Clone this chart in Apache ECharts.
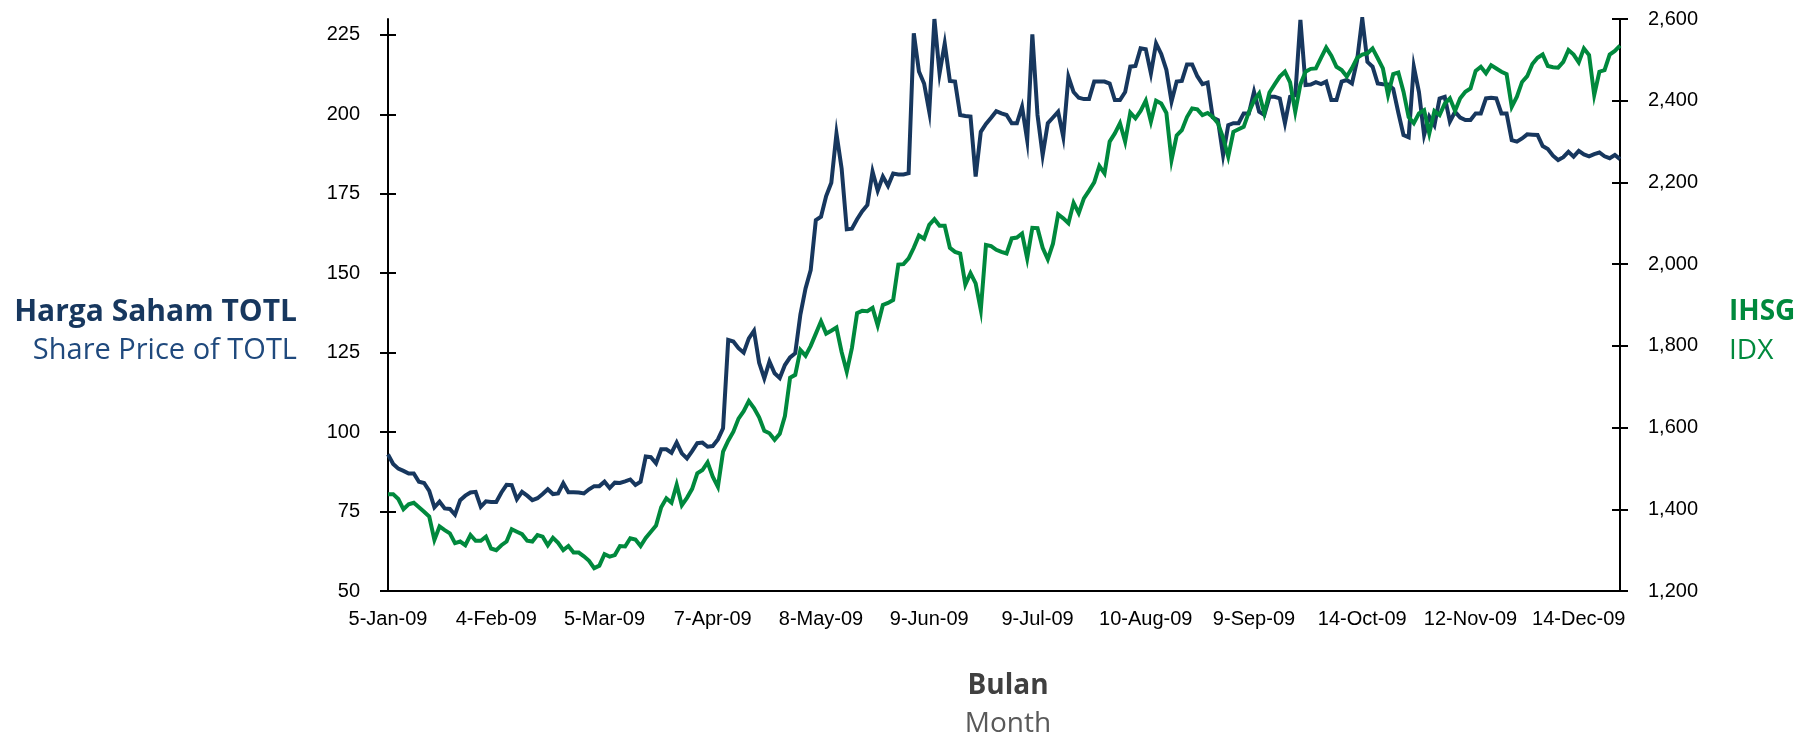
<!DOCTYPE html>
<html>
<head>
<meta charset="utf-8">
<title>Harga Saham TOTL vs IHSG 2009</title>
<script src="https://cdn.jsdelivr.net/npm/echarts@6/dist/echarts.min.js"></script>
<style>
  html, body { margin: 0; padding: 0; background: #fff; }
  #chart { width: 1813px; height: 742px; }
</style>
</head>
<body>
<div id="chart"></div>
<script>
// tick labels on the date axis, one every 21 trading days
const tickLabels = ['5-Jan-09', '4-Feb-09', '5-Mar-09', '7-Apr-09', '8-May-09', '9-Jun-09',
  '9-Jul-09', '10-Aug-09', '9-Sep-09', '14-Oct-09', '12-Nov-09', '14-Dec-09'];
const tickStep = 21;

// harga saham TOTL (left axis), daily close
const totl = [
  93, 90, 88.5, 87.8, 87, 87, 84.4, 84, 81.5, 76.3,
  78.1, 76, 75.8, 74, 78.6, 80, 81, 81.2, 76.5, 78.2,
  78, 78, 81, 83.4, 83.3, 78.9, 81.2, 80, 78.6, 79.2,
  80.5, 82, 80.5, 80.7, 83.9, 81.1, 81.1, 81, 80.7, 82,
  83, 83, 84.4, 82.4, 84.1, 84, 84.5, 85.1, 83.4, 84.4,
  92.3, 92.1, 90.2, 94.6, 94.6, 93.5, 96.7, 93.3, 91.7, 94,
  96.5, 96.7, 95.4, 95.6, 97.7, 101.2, 129, 128.5, 126.4, 125,
  129.5, 131.9, 121.8, 116.9, 122.2, 118.5, 117, 121.1, 123.5, 124.8,
  137, 145.2, 151, 166.7, 167.8, 174.3, 178.5, 194, 183, 163.8,
  164, 167, 169.5, 171.5, 182, 176, 180.4, 177.5, 181.4, 181.1,
  181.1, 181.5, 225.5, 213.5, 209.7, 200.8, 230, 212.9, 222.3, 210.5,
  210.3, 199.8, 199.5, 199.3, 180.4, 194.5, 197, 198.9, 201, 200.3,
  199.8, 197.2, 197.2, 202.4, 191.9, 225.2, 199.8, 187.2, 197.2, 199,
  200.8, 192.9, 211.8, 207, 205.2, 204.8, 204.8, 210.3, 210.3, 210.3,
  209.7, 204.5, 204.5, 207, 215, 215.2, 220.8, 220.5, 212.9, 222.3,
  219, 214, 204, 210.3, 210.5, 215.7, 215.7, 212, 209.5, 210,
  199, 198.2, 187.2, 196.6, 197.2, 197.2, 200.3, 200.3, 207.1, 200.8,
  199.8, 205.5, 205.5, 205, 197.2, 205.5, 206, 229.7, 209.2, 209.4,
  210.1, 209.5, 210.3, 204.5, 204.5, 210.3, 210.8, 209.7, 217, 230.2,
  216.5, 215, 209.7, 209.5, 209.4, 208, 200.5, 193.5, 192.8, 215,
  207, 193.5, 199.3, 196.5, 205, 205.5, 197.7, 200.8, 199, 198.2,
  198.2, 200.3, 200.3, 205, 205.2, 205, 200.3, 200.3, 191.9, 191.4,
  192.4, 193.7, 193.6, 193.5, 190, 189.1, 187, 185.6, 186.5, 188.2,
  186.7, 188.5, 187.4, 186.8, 187.5, 188, 186.8, 186.2, 187.2, 185.9
];

// IHSG / IDX composite (right axis)
const ihsg = [
  1437, 1437, 1425, 1400, 1412, 1416, 1405, 1394, 1382, 1325,
  1358, 1349, 1341, 1317, 1321, 1312, 1337, 1323, 1323, 1333,
  1304, 1300, 1312, 1321, 1351, 1345, 1339, 1323, 1321, 1337,
  1333, 1312, 1330, 1318, 1300, 1310, 1294, 1294, 1285, 1274,
  1256, 1262, 1290, 1284, 1288, 1310, 1309, 1329, 1326, 1310,
  1330, 1345, 1360, 1405, 1427, 1416, 1460, 1410, 1428, 1450,
  1488, 1496, 1515, 1480, 1455, 1541, 1568, 1590, 1622, 1640,
  1665, 1648, 1625, 1592, 1586, 1570, 1585, 1628, 1722, 1729,
  1790, 1776, 1800, 1830, 1860, 1830, 1837, 1845, 1785, 1737,
  1795, 1880, 1886, 1885, 1893, 1850, 1900, 1905, 1912, 1999,
  2000, 2014, 2040, 2070, 2062, 2096, 2110, 2094, 2094, 2040,
  2030, 2026, 1950, 1978, 1953, 1888, 2047, 2044, 2035, 2030,
  2026, 2063, 2065, 2075, 2014, 2089, 2088, 2040, 2012, 2050,
  2122, 2112, 2100, 2150, 2125, 2161, 2180, 2200, 2240, 2222,
  2300, 2320, 2345, 2300, 2371, 2357, 2375, 2400, 2349, 2400,
  2393, 2370, 2255, 2315, 2328, 2360, 2381, 2379, 2365, 2370,
  2360, 2345, 2310, 2263, 2324, 2330, 2336, 2372, 2400, 2418,
  2369, 2420, 2440, 2459, 2471, 2445, 2373, 2440, 2471, 2478,
  2479, 2505, 2530, 2510, 2483, 2475, 2459, 2480, 2505, 2513,
  2516, 2528, 2504, 2479, 2414, 2465, 2469, 2422, 2360, 2345,
  2369, 2377, 2320, 2375, 2365, 2393, 2406, 2375, 2406, 2422,
  2430, 2473, 2483, 2467, 2487, 2479, 2471, 2465, 2385, 2410,
  2446, 2460, 2490, 2505, 2513, 2485, 2482, 2481, 2495, 2524,
  2513, 2494, 2528, 2512, 2414, 2471, 2475, 2513, 2522, 2535
];

const leftTicks = [50, 75, 100, 125, 150, 175, 200, 225];

// categories: one per trading day, labelled every tickStep days
const days = totl.map((v, i) => (i % tickStep === 0 ? tickLabels[i / tickStep] : ''));

const NAVY = '#17375E';
const GREEN = '#00893D';
const AXIS_FONT = '"Liberation Sans", Arial, sans-serif';
const TITLE_FONT = '"Open Sans", "Noto Sans", sans-serif';

let myCharts = echarts.init(document.getElementById('chart'));

let tickStyle = { show: true, length: 8, lineStyle: { color: '#000', width: 2 } };

let option = {
  animation: false,
  backgroundColor: '#fff',
  grid: { left: 388, right: 193, top: 19, bottom: 151 },
  xAxis: {
    type: 'category',
    boundaryGap: false,
    data: days,
    axisLine: { lineStyle: { color: '#000', width: 2 } },
    axisTick: { show: false },
    axisLabel: {
      interval: function (i) { return i % tickStep === 0; },
      color: '#000',
      fontFamily: AXIS_FONT,
      fontSize: 20,
      margin: 18
    },
    splitLine: { show: false }
  },
  yAxis: [{
    type: 'value',
    position: 'left',
    min: 50,
    max: 230,
    interval: 25,
    axisLine: { show: true, lineStyle: { color: '#000', width: 2 } },
    axisTick: Object.assign({ customValues: leftTicks }, tickStyle),
    axisLabel: {
      customValues: leftTicks,
      color: '#000',
      fontFamily: AXIS_FONT,
      fontSize: 20,
      margin: 28
    },
    splitLine: { show: false }
  }, {
    type: 'value',
    position: 'right',
    min: 1200,
    max: 2600,
    interval: 200,
    axisLine: { show: true, lineStyle: { color: '#000', width: 2 } },
    axisTick: tickStyle,
    axisLabel: {
      color: '#000',
      fontFamily: AXIS_FONT,
      fontSize: 20,
      margin: 28,
      formatter: function (v) { return v.toLocaleString('en-US'); }
    },
    splitLine: { show: false }
  }, {
    // inner half of the crossing ticks, left
    type: 'value',
    position: 'left',
    min: 50,
    max: 230,
    interval: 25,
    axisLine: { show: false },
    axisTick: Object.assign({ inside: true, customValues: leftTicks }, tickStyle),
    axisLabel: { show: false },
    splitLine: { show: false }
  }, {
    // inner half of the crossing ticks, right
    type: 'value',
    position: 'right',
    min: 1200,
    max: 2600,
    interval: 200,
    axisLine: { show: false },
    axisTick: Object.assign({ inside: true }, tickStyle),
    axisLabel: { show: false },
    splitLine: { show: false }
  }],
  graphic: [
    { type: 'text', x: 297, y: 312, style: { text: 'Harga Saham TOTL', fill: NAVY, font: 'bold 30px ' + TITLE_FONT, textAlign: 'right', textVerticalAlign: 'middle' } },
    { type: 'text', x: 297, y: 351, style: { text: 'Share Price of TOTL', fill: '#1F497D', font: '29px ' + TITLE_FONT, textAlign: 'right', textVerticalAlign: 'middle' } },
    { type: 'text', x: 1729, y: 312, style: { text: 'IHSG', fill: GREEN, font: 'bold 28px ' + TITLE_FONT, textVerticalAlign: 'middle' } },
    { type: 'text', x: 1729, y: 351, style: { text: 'IDX', fill: GREEN, font: '28px ' + TITLE_FONT, textVerticalAlign: 'middle' } },
    { type: 'text', x: 1008, y: 686, style: { text: 'Bulan', fill: '#404040', font: 'bold 28px ' + TITLE_FONT, textAlign: 'center', textVerticalAlign: 'middle' } },
    { type: 'text', x: 1008, y: 724, style: { text: 'Month', fill: '#595959', font: '28px ' + TITLE_FONT, textAlign: 'center', textVerticalAlign: 'middle' } }
  ],
  series: [{
    name: 'Harga Saham TOTL',
    type: 'line',
    yAxisIndex: 0,
    data: totl,
    showSymbol: false,
    lineStyle: { color: NAVY, width: 4, join: 'miter' },
    itemStyle: { color: NAVY }
  }, {
    name: 'IHSG',
    type: 'line',
    yAxisIndex: 1,
    data: ihsg,
    showSymbol: false,
    lineStyle: { color: GREEN, width: 4, join: 'miter' },
    itemStyle: { color: GREEN }
  }]
};

myCharts.setOption(option);
</script>
</body>
</html>
